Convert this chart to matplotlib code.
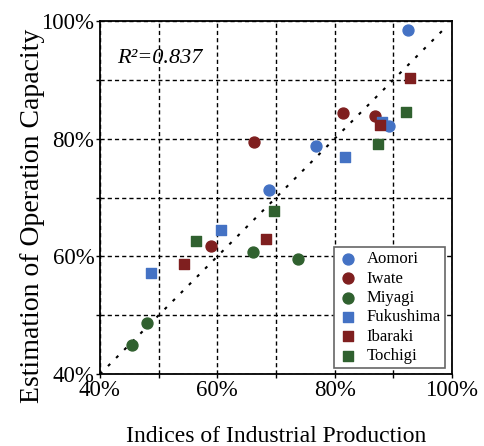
import matplotlib
matplotlib.use('Agg')
import matplotlib.pyplot as plt
from matplotlib.ticker import MultipleLocator, FuncFormatter

plt.rcParams['font.family'] = ['Liberation Serif', 'DejaVu Serif']

# values in % (x = industrial production index, y = operation capacity)
aomori_x = [92.5, 89.3, 76.9, 68.8]
aomori_y = [98.4, 82.1, 78.7, 71.3]
iwate_x = [81.4, 86.9, 66.3, 58.9]
iwate_y = [84.4, 83.8, 79.5, 61.7]
miyagi_x = [66.1, 73.7, 48.1, 45.4]
miyagi_y = [60.8, 59.6, 48.7, 44.9]
fukushima_x = [88.0, 81.7, 60.6, 48.7]
fukushima_y = [82.8, 76.9, 64.5, 57.2]
ibaraki_x = [92.8, 87.7, 68.3, 54.4]
ibaraki_y = [90.3, 82.3, 62.9, 58.7]
tochigi_x = [92.1, 87.4, 69.6, 56.3]
tochigi_y = [84.5, 79.1, 67.7, 62.6]

blue = '#4472c4'
red = '#7f1f1f'
green = '#30612f'

fig = plt.figure(figsize=(4.85, 4.46), dpi=100)
ax = fig.add_axes([0.206, 0.161, 0.726, 0.792])

ax.plot([40, 99], [40, 99], linestyle=(0, (1.5, 4)), color='black', lw=1.5, zorder=2)

ax.scatter(aomori_x, aomori_y, marker='o', s=62, color=blue, label='Aomori', zorder=3)
ax.scatter(iwate_x, iwate_y, marker='o', s=62, color=red, label='Iwate', zorder=3)
ax.scatter(miyagi_x, miyagi_y, marker='o', s=62, color=green, label='Miyagi', zorder=3)
ax.scatter(fukushima_x, fukushima_y, marker='s', s=62, color=blue, label='Fukushima', zorder=3)
ax.scatter(ibaraki_x, ibaraki_y, marker='s', s=62, color=red, label='Ibaraki', zorder=3)
ax.scatter(tochigi_x, tochigi_y, marker='s', s=62, color=green, label='Tochigi', zorder=3)

ax.set_xlim(40, 100)
ax.set_ylim(40, 100)
pct = FuncFormatter(lambda v, p: '%d%%' % v)
for axis in (ax.xaxis, ax.yaxis):
    axis.set_major_locator(MultipleLocator(20))
    axis.set_minor_locator(MultipleLocator(10))
    axis.set_major_formatter(pct)
ax.grid(True, which='both', color='black', linestyle=(0, (3, 2.2)), lw=1.0, zorder=1)
ax.tick_params(which='both', direction='out', length=3, width=1, labelsize=16.5, pad=1)
for s in ax.spines.values():
    s.set_linewidth(1.3)

ax.set_xlabel('Indices of Industrial Production', fontsize=17, labelpad=18)
ax.set_ylabel('Estimation of Operation Capacity', fontsize=20)
ax.yaxis.set_label_coords(-0.156, 0.448)

ax.text(43, 93.7, 'R\u00b2=0.837', fontsize=16, style='italic', va='center')

leg = ax.legend(loc='lower right', fontsize=12, frameon=True, fancybox=False,
                edgecolor='#666666', framealpha=1, handletextpad=0.5,
                labelspacing=0.2, borderpad=0.25, handlelength=1.2,
                borderaxespad=0, bbox_to_anchor=(0.98, 0.017))
leg.get_frame().set_linewidth(1.2)

fig.savefig('out.png', dpi=100)
